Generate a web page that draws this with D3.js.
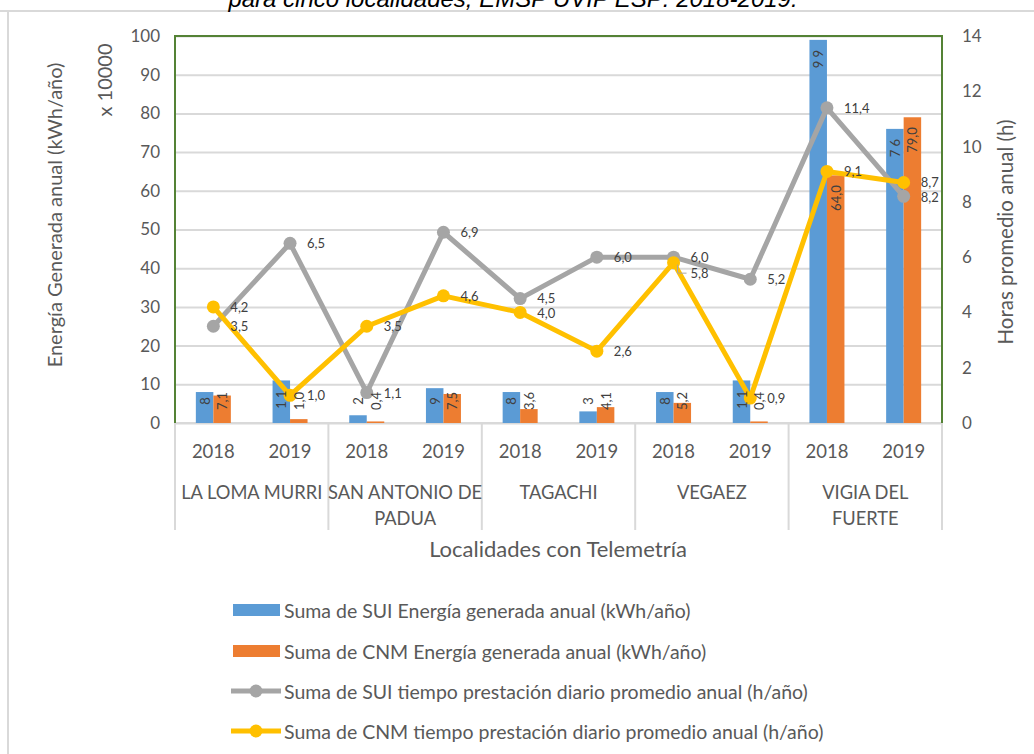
<!DOCTYPE html>
<html>
<head>
<meta charset="utf-8">
<script src="https://cdn.jsdelivr.net/npm/d3@7"></script>
<style>
body { margin: 0; background: #fff; }
text { font-family: Lato, "Open Sans", sans-serif; fill: #595959; }
</style>
</head>
<body>
<div class="energy-chart"></div>
<script>
// datos
const localidades = ['LA LOMA MURRI', 'SAN ANTONIO DE\nPADUA', 'TAGACHI', 'VEGAEZ', 'VIGIA DEL\nFUERTE'];
const anios = ['2018', '2019'];
const suiEnergia = [8, 11, 2, 9, 8, 3, 8, 11, 99, 76];          // x 10000 kWh/año
const cnmEnergia = [7.1, 1.0, 0.4, 7.5, 3.6, 4.1, 5.2, 0.4, 64.0, 79.0];
const suiHoras = [3.5, 6.5, 1.1, 6.9, 4.5, 6.0, 6.0, 5.2, 11.4, 8.2];
const cnmHoras = [4.2, 1.0, 3.5, 4.6, 4.0, 2.6, 5.8, 0.9, 9.1, 8.7];
const leyenda = [
    'Suma de SUI Energía generada anual (kWh/año)',
    'Suma de CNM Energía generada anual (kWh/año)',
    'Suma de SUI tiempo prestación diario promedio anual (h/año)',
    'Suma de CNM tiempo prestación diario promedio anual (h/año)'
];

const width = 1034;
const height = 754;
const pLeft = 175, pRight = 942, pTop = 36, pBottom = 423;
const azul = '#5B9BD5', naranja = '#ED7D31', gris = '#A5A5A5', amarillo = '#FFC000';

const svg = d3.select('.energy-chart')
    .append('svg')
    .attr('width', width)
    .attr('height', height);

// marco exterior y titulo cortado
svg.append('line').attr('x1', 0).attr('x2', width).attr('y1', 11).attr('y2', 11)
    .attr('stroke', '#d9d9d9').attr('stroke-width', 2);
svg.append('line').attr('x1', 8).attr('x2', 8).attr('y1', 11).attr('y2', height)
    .attr('stroke', '#d9d9d9').attr('stroke-width', 2);
svg.append('text')
    .attr('x', 513).attr('y', 7)
    .attr('text-anchor', 'middle')
    .style('font-family', '"Liberation Sans", Arial, sans-serif')
    .style('font-style', 'italic')
    .style('font-size', '24px')
    .style('fill', '#000')
    .text('para cinco localidades, EMSP UVIP ESP: 2018-2019.');

const categorias = [];
localidades.forEach(function(l) {
    anios.forEach(function(a) { categorias.push(a); });
});
const idx = d3.range(categorias.length);

const x = d3.scaleBand().domain(idx).range([pLeft, pRight]);
const x1 = d3.scaleBand().domain(['sui', 'cnm'])
    .range([x.bandwidth() / 2 - 17.5, x.bandwidth() / 2 + 17.5]);
const y = d3.scaleLinear().domain([0, 100]).range([pBottom, pTop]);
const y2 = d3.scaleLinear().domain([0, 14]).range([pBottom, pTop]);

// grid
svg.append('g')
    .attr('transform', 'translate(' + pLeft + ',0)')
    .call(d3.axisLeft(y).ticks(10).tickSize(-(pRight - pLeft)).tickFormat(''))
    .call(g => g.select('.domain').remove())
    .selectAll('line').attr('stroke', '#d9d9d9').attr('stroke-width', 2);

// ejes
svg.append('g')
    .attr('transform', 'translate(' + pLeft + ',0)')
    .call(d3.axisLeft(y).ticks(10).tickSize(0).tickPadding(15))
    .call(g => g.select('.domain').remove())
    .selectAll('text').style('font-size', '17px').style('font-family', 'Lato').attr('fill', '#595959');

svg.append('g')
    .attr('transform', 'translate(' + pRight + ',0)')
    .call(d3.axisRight(y2).ticks(7).tickSize(0).tickPadding(20))
    .call(g => g.select('.domain').remove())
    .selectAll('text').style('font-size', '17px').style('font-family', 'Lato').attr('fill', '#595959');

// eje x
svg.append('line').attr('x1', pLeft).attr('x2', pRight).attr('y1', pBottom).attr('y2', pBottom)
    .attr('stroke', '#d9d9d9').attr('stroke-width', 2);
d3.range(localidades.length + 1).forEach(function(i) {
    const xx = i < localidades.length ? x(i * 2) : pRight;
    svg.append('line').attr('x1', xx).attr('x2', xx).attr('y1', pBottom).attr('y2', 530)
        .attr('stroke', '#d9d9d9').attr('stroke-width', 2);
});
svg.selectAll('.anio')
    .data(idx)
    .enter()
    .append('text')
    .attr('class', 'anio')
    .attr('x', d => x(d) + x.bandwidth() / 2)
    .attr('y', 458)
    .attr('text-anchor', 'middle')
    .style('font-size', '18.5px')
    .text(d => categorias[d]);
localidades.forEach(function(l, i) {
    const cx = x(i * 2) + x.bandwidth();
    l.split('\n').forEach(function(linea, j) {
        svg.append('text')
            .attr('x', cx)
            .attr('y', 499 + j * 26)
            .attr('text-anchor', 'middle')
            .style('font-size', '18.3px')
            .text(linea);
    });
});
svg.append('text')
    .attr('x', 558).attr('y', 557)
    .attr('text-anchor', 'middle')
    .style('font-size', '22px')
    .text('Localidades con Telemetría');

// titulos de ejes
svg.append('text')
    .attr('transform', 'translate(62,215) rotate(-90)')
    .attr('text-anchor', 'middle')
    .style('font-size', '20px')
    .text('Energía Generada anual (kWh/año)');
svg.append('text')
    .attr('transform', 'translate(112,80) rotate(-90)')
    .attr('text-anchor', 'middle')
    .style('font-size', '20px')
    .text('x 10000');
svg.append('text')
    .attr('transform', 'translate(1013,232) rotate(-90)')
    .attr('text-anchor', 'middle')
    .style('font-size', '20.5px')
    .text('Horas promedio anual (h)');

// barras
function barras(data, key, color) {
    svg.selectAll('.bar-' + key)
        .data(data)
        .enter()
        .append('rect')
        .attr('class', 'bar-' + key)
        .attr('x', (d, i) => x(i) + x1(key))
        .attr('y', d => y(d))
        .attr('width', x1.bandwidth())
        .attr('height', d => pBottom - y(d))
        .attr('fill', color);
}
barras(suiEnergia, 'sui', azul);
barras(cnmEnergia, 'cnm', naranja);

// lineas
function serie(data, color) {
    const line = d3.line()
        .x((d, i) => x(i) + x.bandwidth() / 2)
        .y(d => y2(d));
    svg.append('path')
        .datum(data)
        .attr('d', line)
        .attr('fill', 'none')
        .attr('stroke', color)
        .attr('stroke-width', 5)
        .attr('stroke-linejoin', 'round');
    svg.selectAll(null)
        .data(data)
        .enter()
        .append('circle')
        .attr('cx', (d, i) => x(i) + x.bandwidth() / 2)
        .attr('cy', d => y2(d))
        .attr('r', 6.5)
        .attr('fill', color);
}
serie(suiHoras, gris);
serie(cnmHoras, amarillo);

// etiquetas de barras
const coma = d3.format('.1f');
function etiquetasBarras(data, key, fmt) {
    svg.selectAll('.lbl-' + key)
        .data(data)
        .enter()
        .append('text')
        .attr('class', 'lbl-' + key)
        .style('font-size', '13px')
        .style('fill', '#404040')
        .attr('text-anchor', 'middle')
        .attr('dominant-baseline', 'central')
        .text(fmt)
        .attr('transform', function(d, i) {
            const len = this.getComputedTextLength();
            const cy = Math.min(y(d) + 10 + len / 2, 401);
            return 'translate(' + (x(i) + x1(key) + x1.bandwidth() / 2) + ',' + cy + ') rotate(-90)';
        });
}
etiquetasBarras(suiEnergia, 'sui', d => String(d).split('').join(' '));
etiquetasBarras(cnmEnergia, 'cnm', d => coma(d).replace('.', ','));

// etiquetas de lineas (separa las que se pisan)
idx.forEach(function(i) {
    const cx = x(i) + x.bandwidth() / 2;
    let ys = y2(suiHoras[i]);
    let yc = y2(cnmHoras[i]);
    let movida = false;
    const dif = Math.abs(ys - yc);
    if (dif < 10) {
        if (suiHoras[i] >= cnmHoras[i]) { yc = ys + 16; } else { ys = yc + 16; }
        movida = true;
    } else if (dif < 15) {
        const extra = (15 - dif) / 2;
        if (ys < yc) { ys -= extra; yc += extra; } else { ys += extra; yc -= extra; }
    }
    [[suiHoras[i], ys, y2(suiHoras[i])], [cnmHoras[i], yc, y2(cnmHoras[i])]].forEach(function(p) {
        if (movida && p[1] !== p[2]) {
            svg.append('path')
                .attr('d', 'M' + (cx + 4) + ',' + (p[2] + 2) + 'V' + p[1] + 'H' + (cx + 13))
                .attr('fill', 'none')
                .attr('stroke', gris)
                .attr('stroke-width', 1);
        }
        svg.append('text')
            .attr('x', cx + 17)
            .attr('y', p[1])
            .attr('dominant-baseline', 'central')
            .style('font-size', '13px')
            .style('fill', '#404040')
            .text(coma(p[0]).replace('.', ','));
    });
});

// borde verde del area de trazado
svg.append('path')
    .attr('d', 'M' + pLeft + ',' + pBottom + 'V' + pTop + 'H' + pRight + 'V' + pBottom)
    .attr('fill', 'none')
    .attr('stroke', '#548235')
    .attr('stroke-width', 2);

// leyenda
const leyendaY = [610, 651, 691, 731];
leyenda.forEach(function(t, i) {
    const g = svg.append('g');
    if (i < 2) {
        g.append('rect')
            .attr('x', 233).attr('y', leyendaY[i] - 6)
            .attr('width', 47).attr('height', 12)
            .attr('fill', i === 0 ? azul : naranja);
    } else {
        const c = i === 2 ? gris : amarillo;
        g.append('line')
            .attr('x1', 231).attr('x2', 281)
            .attr('y1', leyendaY[i]).attr('y2', leyendaY[i])
            .attr('stroke', c).attr('stroke-width', 5);
        g.append('circle')
            .attr('cx', 256).attr('cy', leyendaY[i]).attr('r', 6.5)
            .attr('fill', c);
    }
    g.append('text')
        .attr('x', 284)
        .attr('y', leyendaY[i])
        .attr('dominant-baseline', 'central')
        .style('font-size', '19.5px')
        .text(t);
});
</script>
</body>
</html>
